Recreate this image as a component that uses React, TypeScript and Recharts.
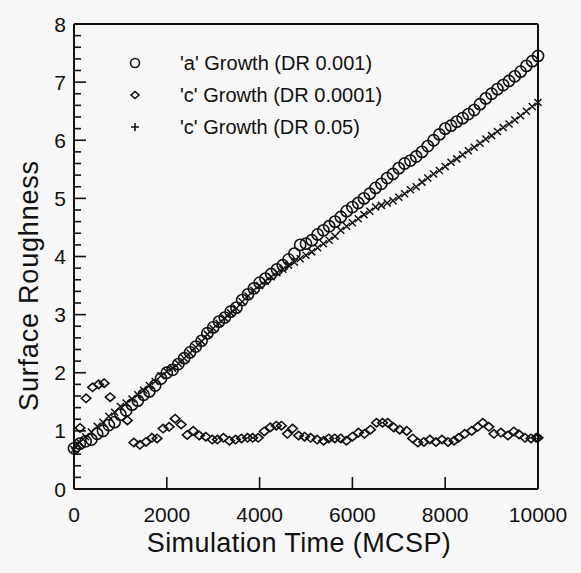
import React from 'react';
import { ScatterChart, Scatter, XAxis, YAxis } from 'recharts';

const FONT = '"Liberation Sans", Arial, Helvetica, sans-serif';
const INK = '#111';

// sample times for the two dense runs (every 125 MCSP)
const gridTimes = Array.from({ length: 81 }, (_, i) => i * 125);

// 'a' Growth (DR 0.001)
const aGrowth001 = [
  0.70, 0.78, 0.82, 0.85, 0.95, 1.00, 1.10, 1.15, 1.28, 1.35,
  1.45, 1.52, 1.62, 1.68, 1.78, 1.90, 2.00, 2.05, 2.15, 2.25,
  2.35, 2.45, 2.55, 2.68, 2.78, 2.88, 2.95, 3.05, 3.12, 3.25,
  3.35, 3.45, 3.55, 3.62, 3.70, 3.78, 3.85, 3.95, 4.05, 4.20,
  4.22, 4.28, 4.38, 4.45, 4.52, 4.60, 4.68, 4.78, 4.85, 4.92,
  5.00, 5.08, 5.18, 5.25, 5.35, 5.42, 5.52, 5.60, 5.65, 5.72,
  5.80, 5.90, 6.00, 6.10, 6.20, 6.25, 6.32, 6.38, 6.45, 6.52,
  6.62, 6.72, 6.80, 6.88, 6.95, 7.02, 7.10, 7.18, 7.28, 7.36,
  7.45,
];

// 'c' Growth (DR 0.05)
const cGrowth005 = [
  0.68, 0.80, 0.90, 0.98, 1.08, 1.15, 1.25, 1.32, 1.42, 1.48,
  1.55, 1.62, 1.70, 1.78, 1.85, 1.95, 2.02, 2.08, 2.16, 2.25,
  2.34, 2.44, 2.54, 2.66, 2.76, 2.85, 2.94, 3.03, 3.11, 3.22,
  3.32, 3.42, 3.50, 3.58, 3.65, 3.72, 3.78, 3.85, 3.90, 3.96,
  4.02, 4.08, 4.15, 4.22, 4.28, 4.35, 4.45, 4.52, 4.58, 4.65,
  4.72, 4.78, 4.85, 4.88, 4.92, 4.96, 5.02, 5.08, 5.15, 5.20,
  5.28, 5.35, 5.42, 5.48, 5.55, 5.62, 5.68, 5.75, 5.82, 5.88,
  5.95, 6.02, 6.08, 6.15, 6.22, 6.28, 6.35, 6.42, 6.50, 6.58,
  6.65,
];

// 'c' Growth (DR 0.0001)
const c0001Times = [
  60, 130, 260, 400, 530, 650, 780, 1150, 1290, 1420,
  1550, 1680, 1790, 1920, 2050, 2180, 2310, 2440, 2570, 2700,
  2840, 2980, 3090, 3220, 3350, 3480, 3610, 3740, 3850, 3970,
  4100, 4230, 4360, 4470, 4600, 4710, 4840, 4970, 5100, 5240,
  5380, 5490, 5620, 5750, 5870, 6000, 6130, 6260, 6390, 6520,
  6650, 6760, 6890, 7020, 7170, 7300, 7410, 7540, 7670, 7800,
  7930, 8060, 8190, 8290, 8420, 8570, 8700, 8810, 8940, 9050,
  9200, 9350, 9480, 9590, 9720, 9850, 9960, 10000,
];
const cGrowth0001 = [
  0.70, 1.05, 1.56, 1.75, 1.80, 1.82, 1.58, 1.18, 0.80, 0.76,
  0.81, 0.88, 0.87, 1.04, 1.07, 1.21, 1.11, 0.93, 1.00, 0.92,
  0.90, 0.85, 0.85, 0.88, 0.83, 0.85, 0.87, 0.88, 0.88, 0.88,
  0.99, 1.06, 1.09, 1.09, 0.95, 1.04, 0.92, 0.90, 0.88, 0.85,
  0.83, 0.87, 0.87, 0.87, 0.83, 0.90, 0.97, 0.95, 1.02, 1.14,
  1.14, 1.14, 1.06, 1.02, 1.00, 0.87, 0.80, 0.81, 0.85, 0.81,
  0.85, 0.81, 0.83, 0.88, 0.95, 1.00, 1.07, 1.14, 1.07, 0.95,
  0.97, 0.92, 0.99, 0.94, 0.88, 0.87, 0.88, 0.88,
];

const xTicks = [0, 2000, 4000, 6000, 8000, 10000];
const yTicks = Array.from({ length: 41 }, (_, i) => i / 5); // minor every 0.2
const legendLabels = [
  "'a' Growth (DR 0.001)",
  "'c' Growth (DR 0.0001)",
  "'c' Growth (DR 0.05)",
];

const aData = gridTimes.map((t, i) => ({ t, v: aGrowth001[i] }));
const c05Data = gridTimes.map((t, i) => ({ t, v: cGrowth005[i] }));
const c0001Data = c0001Times.map((t, i) => ({ t, v: cGrowth0001[i] }));

const isMajor = (v: number) => Math.abs(v - Math.round(v)) < 1e-6;

const BottomTick = ({ x, y, payload }: any) => (
  <g>
    <line x1={x} y1={y} x2={x} y2={y - 12} stroke={INK} strokeWidth={1.6} />
    <text x={x} y={y + 33} textAnchor="middle" fontSize={21} fontFamily={FONT} fill={INK}>
      {payload.value}
    </text>
  </g>
);

const TopTick = ({ x, y }: any) => (
  <line x1={x} y1={y} x2={x} y2={y + 12} stroke={INK} strokeWidth={1.6} />
);

const LeftTick = ({ x, y, payload }: any) => {
  const major = isMajor(payload.value);
  return (
    <g>
      <line x1={x} y1={y} x2={x + (major ? 12 : 7)} y2={y} stroke={INK} strokeWidth={1.6} />
      {major && (
        <text x={x - 8} y={y + 7.5} textAnchor="end" fontSize={21} fontFamily={FONT} fill={INK}>
          {Math.round(payload.value)}
        </text>
      )}
    </g>
  );
};

const RightTick = ({ x, y, payload }: any) => {
  const major = isMajor(payload.value);
  return <line x1={x} y1={y} x2={x - (major ? 12 : 7)} y2={y} stroke={INK} strokeWidth={1.6} />;
};

const CircleMark = ({ cx, cy }: any) => (
  <circle cx={cx} cy={cy} r={5.6} fill="none" stroke={INK} strokeWidth={1.6} />
);

const DiamondMark = ({ cx, cy }: any) => (
  <path
    d={`M${cx - 4.8},${cy} L${cx},${cy - 4.2} L${cx + 4.8},${cy} L${cx},${cy + 4.2} Z`}
    fill="none"
    stroke={INK}
    strokeWidth={1.6}
  />
);

const CrossMark = ({ cx, cy }: any) => (
  <path
    d={`M${cx - 3.5},${cy - 3.5} L${cx + 3.5},${cy + 3.5} M${cx - 3.5},${cy + 3.5} L${cx + 3.5},${cy - 3.5}`}
    stroke={INK}
    strokeWidth={1.5}
  />
);

const legendSymbols = [
  <circle cx={10} cy={10} r={4.5} fill="none" stroke={INK} strokeWidth={1.6} />,
  <path d="M6,10 L10,6.5 L14,10 L10,13.5 Z" fill="none" stroke={INK} strokeWidth={1.6} />,
  <path d="M6,10 L14,10 M10,6 L10,14" stroke={INK} strokeWidth={1.6} />,
];

export default function App() {
  return (
    <div style={{ position: 'absolute', left: 0, top: 0, width: 581, height: 573, background: '#f7f7f7' }}>
      <ScatterChart width={581} height={573} margin={{ top: 0, right: 0, bottom: 0, left: 0 }}>
        <XAxis
          xAxisId="b"
          type="number"
          dataKey="t"
          domain={[0, 10000]}
          ticks={xTicks}
          interval={0}
          height={84}
          tickSize={0}
          tickMargin={0}
          tickLine={false}
          tick={<BottomTick />}
          axisLine={{ stroke: INK, strokeWidth: 2 }}
          label={{
            value: 'Simulation Time (MCSP)',
            position: 'center',
            dy: 11,
            dx: -7,
            fontSize: 27,
            letterSpacing: 0.4,
            fontFamily: FONT,
            fill: INK,
          }}
        />
        <XAxis
          xAxisId="t"
          orientation="top"
          type="number"
          domain={[0, 10000]}
          ticks={xTicks}
          interval={0}
          height={24}
          tickSize={0}
          tickMargin={0}
          tickLine={false}
          tick={<TopTick />}
          axisLine={{ stroke: INK, strokeWidth: 2 }}
        />
        <YAxis
          yAxisId="l"
          type="number"
          dataKey="v"
          domain={[0, 8]}
          ticks={yTicks}
          interval={0}
          width={74}
          tickSize={0}
          tickMargin={0}
          tickLine={false}
          tick={<LeftTick />}
          axisLine={{ stroke: INK, strokeWidth: 2 }}
          label={{
            value: 'Surface Roughness',
            position: 'center',
            angle: -90,
            dx: -9,
            dy: 29,
            fontSize: 27,
            letterSpacing: 0.8,
            fontFamily: FONT,
            fill: INK,
          }}
        />
        <YAxis
          yAxisId="r"
          orientation="right"
          type="number"
          domain={[0, 8]}
          ticks={yTicks}
          interval={0}
          width={43}
          tickSize={0}
          tickMargin={0}
          tickLine={false}
          tick={<RightTick />}
          axisLine={{ stroke: INK, strokeWidth: 2 }}
        />
        <Scatter xAxisId="b" yAxisId="l" data={c0001Data} shape={<DiamondMark />} isAnimationActive={false} />
        <Scatter xAxisId="b" yAxisId="l" data={c05Data} shape={<CrossMark />} isAnimationActive={false} />
        <Scatter xAxisId="b" yAxisId="l" data={aData} shape={<CircleMark />} isAnimationActive={false} />
      </ScatterChart>
      {legendLabels.map((label, i) => (
        <div
          key={label}
          style={{
            position: 'absolute',
            left: 125,
            top: 50 + i * 32,
            height: 26,
            display: 'flex',
            alignItems: 'center',
            fontFamily: FONT,
            fontSize: 20,
            color: INK,
            whiteSpace: 'nowrap',
          }}
        >
          <svg width={20} height={20} style={{ marginRight: 35 }}>
            {legendSymbols[i]}
          </svg>
          {label}
        </div>
      ))}
    </div>
  );
}
